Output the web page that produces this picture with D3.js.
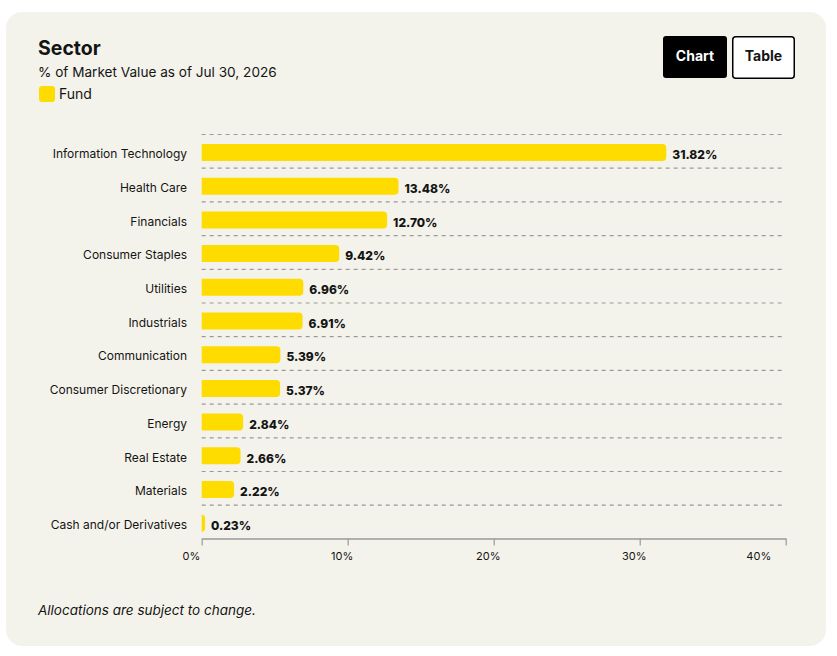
<!DOCTYPE html>
<html><head><meta charset="utf-8">
<script src="https://cdn.jsdelivr.net/npm/d3@7"></script>
<style>
html,body{margin:0;padding:0;background:#fff;}
svg{display:block;font-family:Inter,"Noto Sans",sans-serif;}
</style></head>
<body>
<svg id="c" width="837" height="656"></svg>
<script>
const categories = ["Information Technology","Health Care","Financials","Consumer Staples","Utilities","Industrials","Communication","Consumer Discretionary","Energy","Real Estate","Materials","Cash and/or Derivatives"];
const fundValues = [31.82,13.48,12.70,9.42,6.96,6.91,5.39,5.37,2.84,2.66,2.22,0.23];
const xTicks = [0,10,20,30,40];
const xTickLabels = ["0%","10%","20%","30%","40%"];

const svg = d3.select("#c");
const ink = "#141414";

// card
svg.append("rect").attr("x",6).attr("y",12).attr("width",820).attr("height",634).attr("rx",16).attr("fill","#f4f3eb");

// header
svg.append("text").attr("x",38).attr("y",55).attr("font-size",19.5).attr("font-weight",700).attr("fill",ink).text("Sector");
svg.append("text").attr("x",38).attr("y",77).attr("font-size",13.6).attr("fill",ink).text("% of Market Value as of Jul 30, 2026");
svg.append("rect").attr("x",39).attr("y",86).attr("width",16).attr("height",16).attr("rx",3).attr("fill","#ffdc00");
svg.append("text").attr("x",59).attr("y",99).attr("font-size",14).attr("fill",ink).text("Fund");

// buttons
svg.append("rect").attr("x",663).attr("y",36).attr("width",64).attr("height",42).attr("rx",3).attr("fill","#000");
svg.append("text").attr("x",695).attr("y",61).attr("text-anchor","middle").attr("font-size",14).attr("font-weight",700).attr("fill","#fff").text("Chart");
svg.append("rect").attr("x",732.75).attr("y",36.75).attr("width",61.5).attr("height",41.5).attr("rx",3).attr("fill","#fff").attr("stroke","#000").attr("stroke-width",1.5);
svg.append("text").attr("x",763.5).attr("y",61).attr("text-anchor","middle").attr("font-size",14).attr("font-weight",700).attr("fill",ink).text("Table");

// scales
const x = d3.scaleLinear().domain([0,40]).range([201.7,785.7]);
const y = d3.scaleBand().domain(categories).range([134,538.4]).paddingInner(0).paddingOuter(0);
const barTop = 10, barH = 17;

const g = svg.append("g");

// dashed separators
g.selectAll("line.sep").data(categories).join("line")
  .attr("x1",x(0)).attr("x2",782)
  .attr("y1",d=>y(d)+0.5).attr("y2",d=>y(d)+0.5)
  .attr("stroke","#9a9a9a").attr("stroke-width",1.2).attr("stroke-dasharray","4,4");

// bars with rounded right end
const r = 4;
g.selectAll("path.bar").data(fundValues).join("path")
  .attr("fill","#ffdc00")
  .attr("d",(v,i)=>{
    const x0 = x(0), x1 = x(v), y0 = y(categories[i])+barTop, y1 = y0+barH;
    const rr = Math.min(r, x1-x0);
    return `M${x0},${y0}H${x1-rr}Q${x1},${y0} ${x1},${y0+rr}V${y1-rr}Q${x1},${y1} ${x1-rr},${y1}H${x0}Z`;
  });

// value labels
g.selectAll("text.val").data(fundValues).join("text")
  .attr("x",v=>x(v)+6)
  .attr("y",(v,i)=>y(categories[i])+barTop+barH/2+2.5)
  .attr("dy","0.35em")
  .attr("font-size",12).attr("font-weight",800).attr("fill",ink)
  .text(v=>v.toFixed(2)+"%");

// category labels
g.selectAll("text.cat").data(categories).join("text")
  .attr("x",187)
  .attr("y",d=>y(d)+barTop+barH/2+1.5)
  .attr("dy","0.35em")
  .attr("text-anchor","end")
  .attr("font-size",12).attr("fill",ink)
  .text(d=>d);

// x axis
const axisY = 538.4;
const ax = svg.append("g").attr("transform",`translate(0,${axisY})`)
  .call(d3.axisBottom(x).tickValues(xTicks).tickSize(7).tickSizeOuter(0).tickFormat((d,i)=>xTickLabels[i]));
ax.select(".domain").attr("stroke","#9a9a9a").attr("stroke-width",1.5);
ax.selectAll(".tick line").attr("stroke","#9a9a9a").attr("stroke-width",1.2);
ax.selectAll(".tick text").attr("font-family","Inter,'Noto Sans',sans-serif").attr("font-size",11).attr("fill",ink).attr("y",14)
  .attr("text-anchor",(d,i)=> (i===0||i===xTicks.length-1) ? "end" : "middle")
  .attr("dx",(d,i)=> i===0 ? -2 : (i===xTicks.length-1 ? -15 : -6));

// footnote
svg.append("text").attr("x",38).attr("y",615).attr("font-size",13.5).attr("font-style","italic").attr("fill",ink).text("Allocations are subject to change.");
</script>
</body></html>
